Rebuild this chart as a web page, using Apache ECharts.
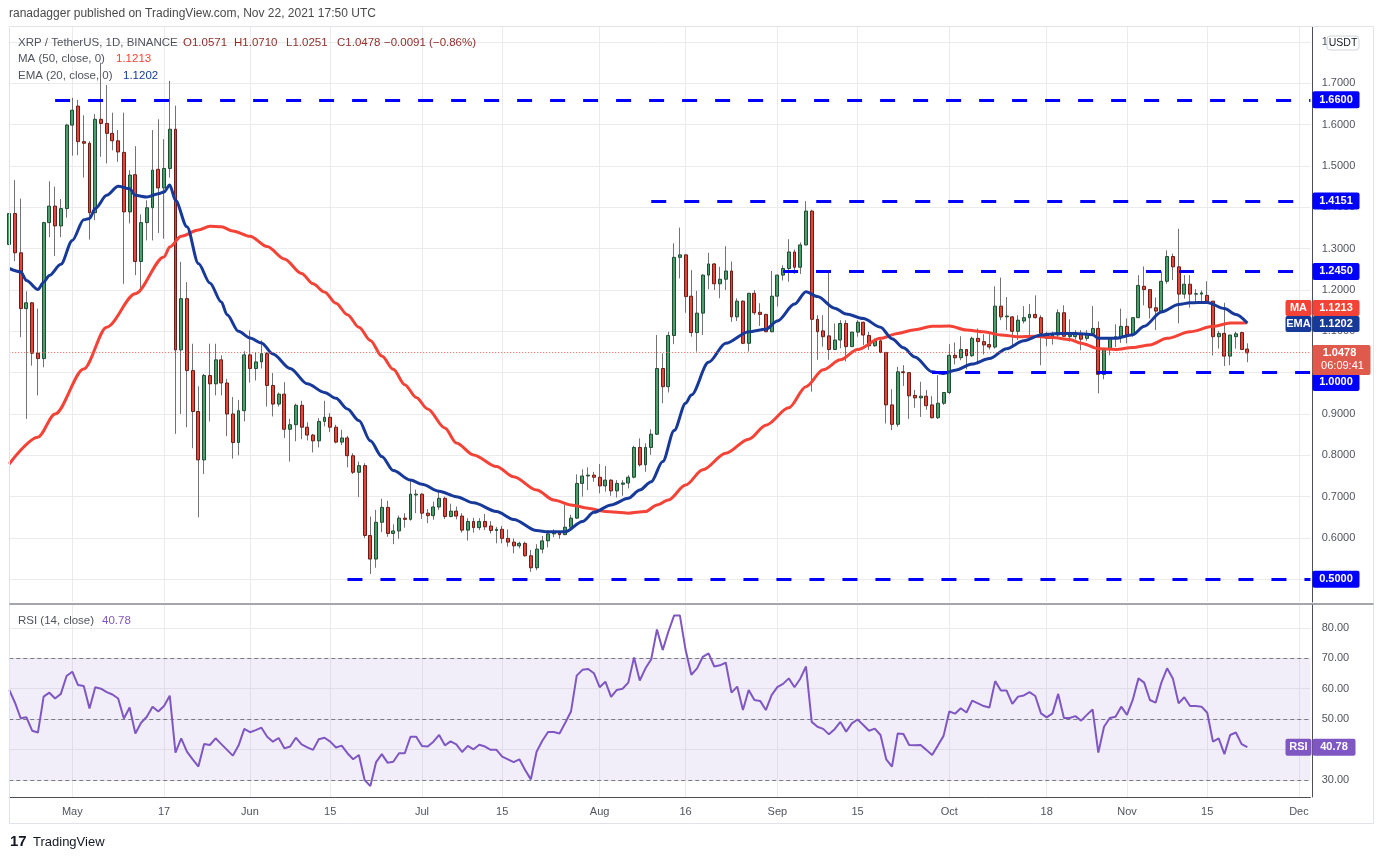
<!DOCTYPE html>
<html>
<head>
<meta charset="utf-8">
<title>XRP / TetherUS 1D</title>
<script src="https://cdn.jsdelivr.net/npm/echarts@6.0.0/dist/echarts.min.js"></script>
<style>
  html, body { margin: 0; padding: 0; background: #fff; }
  #chart { width: 1384px; height: 860px; }
</style>
</head>
<body>
<div id="chart"></div>
<script>
// XRP/USDT daily, first candle 2021-04-20, last 2021-11-22, axis runs on to Dec 3
var firstDay = '2021-04-20';
var lastAxisDay = '2021-12-03';

var opens = [
    1.310, 1.385, 1.290, 1.155, 1.169, 1.047, 1.034, 1.363, 1.403, 1.355,
    1.397, 1.599, 1.645, 1.559, 1.555, 1.387, 1.613, 1.603, 1.579, 1.561,
    1.533, 1.389, 1.479, 1.269, 1.363, 1.399, 1.492, 1.447, 1.494, 1.589,
    1.055, 1.179, 1.005, 0.906, 0.789, 0.993, 0.973, 1.031, 0.975, 0.900,
    0.831, 0.908, 1.043, 1.010, 1.026, 1.046, 0.969, 0.924, 0.948, 0.863,
    0.874, 0.921, 0.868, 0.849, 0.835, 0.882, 0.892, 0.868, 0.832, 0.842,
    0.799, 0.759, 0.775, 0.606, 0.549, 0.638, 0.674, 0.611, 0.617, 0.648,
    0.645, 0.704, 0.706, 0.660, 0.654, 0.675, 0.696, 0.652, 0.665, 0.653,
    0.619, 0.640, 0.625, 0.640, 0.629, 0.618, 0.621, 0.599, 0.590, 0.581,
    0.587, 0.557, 0.528, 0.573, 0.593, 0.610, 0.613, 0.608, 0.626, 0.648,
    0.732, 0.750, 0.752, 0.747, 0.726, 0.740, 0.714, 0.730, 0.733, 0.747,
    0.819, 0.777, 0.819, 0.851, 1.010, 0.966, 1.090, 1.279, 1.285, 1.185,
    1.097, 1.144, 1.236, 1.263, 1.215, 1.226, 1.246, 1.135, 1.173, 1.071,
    1.192, 1.146, 1.141, 1.099, 1.185, 1.236, 1.252, 1.292, 1.255, 1.309,
    1.391, 1.129, 1.101, 1.089, 1.056, 1.079, 1.119, 1.063, 1.098, 1.122,
    1.090, 1.065, 1.077, 1.049, 0.922, 0.875, 1.002, 1.000, 0.945, 0.939,
    0.943, 0.922, 0.891, 0.926, 0.952, 1.042, 1.036, 1.056, 1.041, 1.083,
    1.075, 1.068, 1.062, 1.161, 1.135, 1.135, 1.100, 1.125, 1.133, 1.141,
    1.133, 1.095, 1.083, 1.091, 1.145, 1.087, 1.087, 1.093, 1.083, 1.095,
    1.107, 0.996, 1.058, 1.084, 1.087, 1.112, 1.091, 1.133, 1.209, 1.201,
    1.157, 1.149, 1.221, 1.281, 1.256, 1.190, 1.214, 1.190, 1.190, 1.187,
    1.173, 1.087, 1.095, 1.040, 1.087, 1.097, 1.0571
];
var highs = [
    1.400, 1.466, 1.421, 1.197, 1.171, 1.155, 1.365, 1.463, 1.450, 1.420,
    1.602, 1.665, 1.660, 1.623, 1.560, 1.626, 1.750, 1.696, 1.629, 1.587,
    1.629, 1.490, 1.548, 1.383, 1.417, 1.587, 1.613, 1.565, 1.706, 1.646,
    1.268, 1.219, 1.070, 0.967, 0.997, 1.070, 1.070, 1.042, 0.985, 0.941,
    0.934, 1.052, 1.102, 1.050, 1.078, 1.050, 0.999, 0.952, 0.977, 0.888,
    0.925, 0.932, 0.880, 0.852, 0.890, 0.932, 0.902, 0.874, 0.862, 0.847,
    0.805, 0.785, 0.781, 0.652, 0.668, 0.695, 0.690, 0.633, 0.654, 0.660,
    0.738, 0.717, 0.708, 0.670, 0.688, 0.711, 0.700, 0.683, 0.676, 0.660,
    0.648, 0.649, 0.648, 0.658, 0.641, 0.627, 0.629, 0.621, 0.599, 0.591,
    0.591, 0.571, 0.585, 0.605, 0.619, 0.621, 0.615, 0.680, 0.656, 0.754,
    0.766, 0.771, 0.760, 0.779, 0.774, 0.742, 0.740, 0.740, 0.752, 0.823,
    0.841, 0.829, 0.863, 1.091, 1.047, 1.099, 1.313, 1.351, 1.286, 1.248,
    1.198, 1.238, 1.290, 1.265, 1.256, 1.306, 1.269, 1.180, 1.175, 1.193,
    1.200, 1.168, 1.142, 1.246, 1.237, 1.260, 1.323, 1.298, 1.315, 1.415,
    1.394, 1.139, 1.139, 1.244, 1.119, 1.127, 1.127, 1.099, 1.127, 1.123,
    1.099, 1.083, 1.083, 1.050, 0.960, 1.014, 1.018, 1.001, 0.958, 0.978,
    0.958, 0.943, 0.994, 0.953, 1.069, 1.073, 1.088, 1.057, 1.087, 1.107,
    1.093, 1.093, 1.209, 1.230, 1.183, 1.136, 1.139, 1.161, 1.166, 1.187,
    1.139, 1.099, 1.099, 1.153, 1.163, 1.129, 1.103, 1.103, 1.103, 1.161,
    1.124, 1.058, 1.084, 1.117, 1.155, 1.131, 1.133, 1.236, 1.257, 1.201,
    1.182, 1.245, 1.296, 1.288, 1.348, 1.236, 1.236, 1.202, 1.199, 1.221,
    1.173, 1.101, 1.169, 1.091, 1.099, 1.099, 1.0710
];
var lows = [
    1.290, 1.270, 1.086, 0.888, 1.017, 0.945, 1.013, 1.328, 1.282, 1.328,
    1.375, 1.525, 1.526, 1.472, 1.322, 1.369, 1.522, 1.506, 1.538, 1.510,
    1.215, 1.361, 1.236, 1.201, 1.320, 1.320, 1.338, 1.324, 1.472, 0.852,
    0.900, 0.868, 0.817, 0.650, 0.755, 0.882, 0.945, 0.945, 0.846, 0.792,
    0.800, 0.882, 0.976, 0.981, 1.010, 0.918, 0.894, 0.918, 0.842, 0.785,
    0.834, 0.839, 0.836, 0.807, 0.819, 0.870, 0.856, 0.829, 0.825, 0.771,
    0.755, 0.699, 0.600, 0.513, 0.528, 0.614, 0.603, 0.585, 0.598, 0.625,
    0.642, 0.660, 0.646, 0.636, 0.644, 0.668, 0.646, 0.650, 0.645, 0.613,
    0.594, 0.613, 0.619, 0.619, 0.611, 0.587, 0.587, 0.579, 0.563, 0.575,
    0.555, 0.518, 0.522, 0.563, 0.577, 0.602, 0.598, 0.607, 0.618, 0.646,
    0.700, 0.716, 0.736, 0.708, 0.712, 0.702, 0.698, 0.702, 0.720, 0.744,
    0.773, 0.760, 0.801, 0.849, 0.926, 0.952, 1.069, 1.228, 1.145, 1.087,
    1.051, 1.091, 1.202, 1.200, 1.180, 1.200, 1.123, 1.125, 1.069, 1.051,
    1.140, 1.113, 1.098, 1.098, 1.160, 1.223, 1.220, 1.239, 1.239, 1.308,
    0.954, 1.031, 1.063, 1.031, 1.055, 1.059, 1.027, 1.062, 1.087, 1.067,
    1.055, 1.063, 1.047, 0.877, 0.861, 0.869, 0.968, 0.888, 0.915, 0.893,
    0.910, 0.889, 0.888, 0.922, 0.948, 1.020, 1.030, 1.008, 1.038, 1.020,
    1.044, 1.056, 1.058, 1.127, 1.103, 1.067, 1.079, 1.119, 1.088, 1.131,
    1.018, 1.064, 1.068, 1.085, 1.087, 1.075, 1.080, 1.054, 1.077, 1.095,
    0.950, 0.984, 1.042, 1.062, 1.072, 1.071, 1.087, 1.132, 1.163, 1.131,
    1.103, 1.149, 1.215, 1.224, 1.119, 1.179, 1.157, 1.169, 1.169, 1.167,
    1.042, 1.058, 1.016, 1.018, 1.058, 1.055, 1.0251
];
var closes = [
    1.385, 1.290, 1.155, 1.169, 1.047, 1.034, 1.363, 1.403, 1.355, 1.397,
    1.599, 1.635, 1.559, 1.555, 1.387, 1.613, 1.603, 1.579, 1.561, 1.534,
    1.389, 1.478, 1.269, 1.363, 1.399, 1.490, 1.447, 1.494, 1.589, 1.055,
    1.179, 1.005, 0.906, 0.789, 0.993, 0.973, 1.031, 0.975, 0.900, 0.831,
    0.908, 1.043, 1.010, 1.026, 1.046, 0.969, 0.924, 0.948, 0.863, 0.874,
    0.921, 0.868, 0.849, 0.835, 0.882, 0.892, 0.868, 0.832, 0.842, 0.799,
    0.759, 0.775, 0.606, 0.549, 0.638, 0.674, 0.611, 0.617, 0.648, 0.645,
    0.706, 0.706, 0.660, 0.654, 0.675, 0.696, 0.652, 0.665, 0.653, 0.619,
    0.640, 0.625, 0.640, 0.627, 0.618, 0.621, 0.599, 0.590, 0.581, 0.587,
    0.557, 0.528, 0.573, 0.593, 0.610, 0.613, 0.608, 0.626, 0.648, 0.732,
    0.750, 0.752, 0.747, 0.726, 0.740, 0.714, 0.732, 0.733, 0.747, 0.819,
    0.777, 0.819, 0.851, 1.010, 0.966, 1.090, 1.279, 1.285, 1.184, 1.097,
    1.144, 1.236, 1.263, 1.215, 1.226, 1.246, 1.135, 1.173, 1.071, 1.192,
    1.145, 1.141, 1.099, 1.185, 1.236, 1.252, 1.292, 1.255, 1.309, 1.391,
    1.129, 1.099, 1.087, 1.056, 1.079, 1.119, 1.063, 1.098, 1.122, 1.091,
    1.065, 1.077, 1.049, 0.922, 0.875, 1.002, 1.000, 0.944, 0.939, 0.943,
    0.920, 0.891, 0.926, 0.952, 1.042, 1.036, 1.056, 1.041, 1.083, 1.075,
    1.067, 1.062, 1.161, 1.135, 1.137, 1.100, 1.127, 1.133, 1.141, 1.133,
    1.095, 1.083, 1.091, 1.145, 1.088, 1.091, 1.093, 1.081, 1.095, 1.107,
    0.996, 1.058, 1.084, 1.087, 1.112, 1.091, 1.133, 1.211, 1.201, 1.157,
    1.149, 1.221, 1.281, 1.256, 1.190, 1.214, 1.190, 1.191, 1.193, 1.173,
    1.087, 1.095, 1.040, 1.091, 1.094, 1.056, 1.0478
];

// RSI(14), one value per candle
var rsiValues = [
    59.6, 55.4, 50.3, 50.6, 46.2, 45.6, 57.4, 58.7, 56.8, 58.3,
    64.2, 65.6, 61.2, 60.9, 53.5, 60.5, 60.0, 58.9, 58.1, 56.8,
    50.2, 53.8, 45.3, 48.8, 50.8, 54.1, 52.5, 54.3, 57.7, 39.0,
    43.7, 39.3, 36.8, 34.4, 41.8, 41.5, 43.7, 41.8, 39.9, 38.0,
    41.3, 46.8, 45.7, 46.4, 47.2, 44.2, 42.6, 43.8, 40.4, 41.0,
    43.9, 41.7, 40.7, 39.9, 43.4, 43.9, 42.6, 40.7, 41.3, 38.8,
    36.8, 38.2, 30.0, 28.0, 35.9, 38.5, 35.7, 36.0, 38.8, 38.8,
    44.2, 44.2, 41.2, 41.0, 42.6, 44.8, 41.4, 42.7, 41.7, 39.2,
    41.2, 40.1, 41.6, 41.0, 39.9, 39.9, 37.7, 36.8, 35.9, 36.8,
    33.3, 30.2, 39.3, 42.9, 45.8, 45.8, 45.3, 48.8, 52.5, 64.3,
    66.2, 66.5, 65.1, 60.5, 62.3, 57.3, 59.6, 60.0, 62.0, 70.3,
    62.7, 66.7, 69.7, 79.5, 72.7, 78.8, 84.1, 84.1, 72.7, 64.6,
    66.7, 70.5, 71.6, 67.3, 67.7, 68.6, 58.7, 60.7, 53.0, 59.6,
    56.3, 56.0, 53.0, 57.9, 60.5, 61.6, 63.4, 60.5, 63.3, 67.3,
    49.1, 47.5, 46.8, 45.0, 46.7, 49.1, 45.9, 48.6, 49.9, 48.1,
    46.2, 46.9, 44.8, 36.8, 34.4, 45.3, 45.1, 41.5, 41.4, 41.5,
    39.9, 38.2, 41.3, 44.5, 52.5, 51.8, 53.6, 52.2, 56.1, 55.2,
    54.3, 53.8, 62.5, 59.4, 59.4, 55.0, 57.4, 57.8, 58.9, 57.6,
    51.9, 50.6, 51.9, 58.3, 50.4, 50.4, 51.0, 49.5, 51.4, 53.2,
    39.0, 47.5, 50.4, 50.8, 54.1, 51.4, 56.3, 63.4, 62.0, 56.3,
    55.4, 62.0, 66.7, 63.4, 55.2, 57.2, 54.3, 54.3, 54.1, 52.1,
    42.6, 43.7, 38.5, 44.8, 45.6, 41.8, 40.78
];

// MA(50) and EMA(20): [candle index, value]
var maPoints = [
    [0, 0.779], [5, 0.844], [8, 0.900], [13, 1.009], [17, 1.110], [22, 1.191], [27, 1.280],
    [28, 1.304], [30, 1.330], [33, 1.345], [35, 1.354], [37, 1.353], [39, 1.343], [42, 1.330],
    [45, 1.305], [48, 1.275], [51, 1.240], [53, 1.215], [55, 1.195], [57, 1.168], [59, 1.140],
    [61, 1.110], [63, 1.078], [65, 1.040], [67, 1.008], [69, 0.971], [71, 0.940], [73, 0.912],
    [76, 0.866], [78, 0.830], [81, 0.801], [85, 0.773], [88, 0.748], [92, 0.716], [95, 0.692],
    [98, 0.680], [101, 0.672], [104, 0.664], [108, 0.660], [111, 0.664], [113, 0.680], [115, 0.692],
    [118, 0.728], [121, 0.765], [125, 0.805], [129, 0.839], [132, 0.873], [136, 0.915], [139, 0.966],
    [142, 1.007], [145, 1.031], [148, 1.056], [152, 1.083], [155, 1.095], [158, 1.104], [161, 1.112],
    [164, 1.113], [167, 1.103], [170, 1.099], [173, 1.091], [176, 1.087], [179, 1.088], [182, 1.085],
    [185, 1.080], [187, 1.071], [190, 1.058], [193, 1.056], [196, 1.061], [199, 1.067], [202, 1.083],
    [206, 1.099], [210, 1.112], [213, 1.120], [216, 1.121]
];
var emaPoints = [
    [0, 1.252], [2, 1.244], [3, 1.223], [5, 1.201], [6, 1.219], [7, 1.235], [9, 1.262],
    [11, 1.320], [13, 1.370], [14, 1.373], [15, 1.397], [17, 1.429], [19, 1.451], [21, 1.445],
    [22, 1.429], [24, 1.425], [26, 1.433], [27, 1.437], [28, 1.454], [29, 1.417], [31, 1.353],
    [33, 1.264], [35, 1.217], [37, 1.171], [38, 1.140], [40, 1.100], [42, 1.084], [44, 1.072],
    [46, 1.045], [49, 1.010], [52, 0.973], [55, 0.952], [57, 0.938], [59, 0.912], [61, 0.884],
    [63, 0.835], [65, 0.797], [67, 0.763], [70, 0.740], [72, 0.730], [75, 0.713], [78, 0.700],
    [81, 0.685], [85, 0.664], [88, 0.645], [92, 0.618], [94, 0.615], [97, 0.615], [100, 0.640],
    [102, 0.662], [105, 0.680], [108, 0.696], [110, 0.716], [112, 0.736], [114, 0.785], [116, 0.860],
    [118, 0.926], [119, 0.946], [122, 1.025], [125, 1.071], [129, 1.099], [132, 1.105], [134, 1.125],
    [137, 1.166], [139, 1.196], [141, 1.184], [144, 1.156], [146, 1.142], [149, 1.131], [152, 1.110],
    [154, 1.082], [156, 1.060], [158, 1.038], [161, 1.002], [163, 0.998], [165, 1.006], [168, 1.021],
    [171, 1.034], [174, 1.058], [177, 1.077], [180, 1.091], [183, 1.095], [186, 1.095], [189, 1.092],
    [190, 1.083], [193, 1.083], [196, 1.092], [198, 1.112], [201, 1.147], [204, 1.165], [206, 1.169],
    [209, 1.170], [212, 1.155], [214, 1.141], [216, 1.120]
];

// horizontal levels drawn by the author
var levelValues = [1.66, 1.4151, 1.245, 1.0, 0.5];
var levelStarts = ['2021-04-28', '2021-08-10', '2021-09-02', '2021-09-28', '2021-06-18'];

var tickDates = ['2021-05-01', '2021-05-17', '2021-06-01', '2021-06-15', '2021-07-01', '2021-07-15',
    '2021-08-01', '2021-08-16', '2021-09-01', '2021-09-15', '2021-10-01', '2021-10-18',
    '2021-11-01', '2021-11-15', '2021-12-01'];
var tickLabels = ['May', '17', 'Jun', '15', 'Jul', '15', 'Aug', '16', 'Sep', '15', 'Oct', '18', 'Nov', '15', 'Dec'];
var priceTicks = [0.5, 0.6, 0.7, 0.8, 0.9, 1.0, 1.1, 1.2, 1.3, 1.4, 1.5, 1.6, 1.7, 1.8];
var rsiTicks = [30, 40, 50, 60, 70, 80];

var maLast = 1.1213;
var emaLast = 1.1202;
var rsiLast = 40.78;

var FONT = '"Liberation Sans", Arial, sans-serif';
var GRID_COLOR = '#ebebee';
var AXIS_COLOR = '#4c4f58';
var TEXT_COLOR = '#50535e';
var MA_COLOR = '#f44336';
var EMA_COLOR = '#17399a';
var LEVEL_COLOR = '#0000ff';
var RSI_COLOR = '#7e57c2';
var PRICE_COLOR = '#df5a4d';

var categories = [];
for (var t = Date.parse(firstDay + 'T00:00:00Z'); t <= Date.parse(lastAxisDay + 'T00:00:00Z'); t += 86400000) {
    categories.push(new Date(t).toISOString().slice(0, 10));
}
var lastCat = categories[categories.length - 1];

var candleData = [];
var bodyData = [];
for (var i = 0; i < opens.length; i++) {
    candleData.push([opens[i], closes[i], lows[i], highs[i]]);
    bodyData.push([opens[i], closes[i], Math.min(opens[i], closes[i]), Math.max(opens[i], closes[i])]);
}
var lastClose = closes[closes.length - 1];

var isTick = function (idx, val) {
    return tickDates.indexOf(val) >= 0;
};

var levelLines = [];
for (var k = 0; k < levelValues.length; k++) {
    levelLines.push([
        {coord: [levelStarts[k], levelValues[k]], lineStyle: {color: LEVEL_COLOR, width: 3, type: [15, 18]}},
        {coord: [lastCat, levelValues[k]]}
    ]);
}
levelLines.push({yAxis: lastClose, lineStyle: {color: PRICE_COLOR, width: 1, type: [1, 2]}});

var chart = echarts.init(document.getElementById('chart'));

var option = {
    animation: false,
    backgroundColor: '#ffffff',
    textStyle: {fontFamily: FONT},
    grid: [
        {left: 9.25, right: 73.6, top: 27, height: 575, outerBoundsMode: 'none'},
        {left: 9.25, right: 73.6, top: 605, height: 192, outerBoundsMode: 'none'}
    ],
    xAxis: [
        {
            type: 'category', gridIndex: 0, data: categories, boundaryGap: false,
            axisLine: {show: false}, axisTick: {show: false}, axisLabel: {show: false},
            splitLine: {show: true, interval: isTick, lineStyle: {color: GRID_COLOR}}
        },
        {
            type: 'category', gridIndex: 1, data: categories, boundaryGap: false,
            axisLine: {show: true, lineStyle: {color: AXIS_COLOR, width: 1}},
            axisTick: {show: false},
            axisLabel: {
                interval: isTick, color: TEXT_COLOR, fontSize: 11, margin: 9, fontFamily: FONT,
                formatter: function (v) { return tickLabels[tickDates.indexOf(v)]; }
            },
            splitLine: {show: true, interval: isTick, lineStyle: {color: GRID_COLOR}}
        }
    ],
    yAxis: [
        {
            type: 'value', gridIndex: 0, position: 'right', offset: 2.3,
            min: 0.4451, max: 1.8363,
            axisLine: {show: true, lineStyle: {color: AXIS_COLOR, width: 1}},
            axisTick: {show: false, customValues: priceTicks},
            axisLabel: {
                customValues: priceTicks, color: TEXT_COLOR, fontSize: 11, margin: 9, fontFamily: FONT,
                formatter: function (v) { return v.toFixed(4); }
            },
            splitLine: {show: true, lineStyle: {color: GRID_COLOR}}
        },
        {
            type: 'value', gridIndex: 1, position: 'right', offset: 2.3,
            min: 24.41, max: 87.52,
            axisLine: {show: true, lineStyle: {color: AXIS_COLOR, width: 1}},
            axisTick: {show: false, customValues: rsiTicks},
            axisLabel: {
                customValues: rsiTicks, color: TEXT_COLOR, fontSize: 11, margin: 9, fontFamily: FONT,
                formatter: function (v) { return v.toFixed(2); }
            },
            splitLine: {show: true, lineStyle: {color: GRID_COLOR}}
        }
    ],
    series: [
        {
            // wicks
            type: 'candlestick', xAxisIndex: 0, yAxisIndex: 0, data: candleData,
            barWidth: 1, z: 2,
            itemStyle: {color: '#737375', color0: '#737375', borderColor: '#737375', borderColor0: '#737375', borderWidth: 1}
        },
        {
            // bodies
            type: 'candlestick', xAxisIndex: 0, yAxisIndex: 0, data: bodyData,
            barWidth: 3.4, z: 3,
            itemStyle: {color: '#4b9d6c', color0: '#e0463b', borderColor: '#1f4d32', borderColor0: '#6d1d16', borderWidth: 1},
            markLine: {silent: true, symbol: ['none', 'none'], label: {show: false}, animation: false, data: levelLines}
        },
        {
            name: 'MA', type: 'line', xAxisIndex: 0, yAxisIndex: 0, data: maPoints,
            showSymbol: false, smooth: 0.3, smoothMonotone: 'x', z: 4,
            lineStyle: {color: MA_COLOR, width: 3}
        },
        {
            name: 'EMA', type: 'line', xAxisIndex: 0, yAxisIndex: 0, data: emaPoints,
            showSymbol: false, smooth: 0.3, smoothMonotone: 'x', z: 4,
            lineStyle: {color: EMA_COLOR, width: 3}
        },
        {
            name: 'RSI', type: 'line', xAxisIndex: 1, yAxisIndex: 1, data: rsiValues,
            showSymbol: false, z: 3,
            lineStyle: {color: RSI_COLOR, width: 2},
            markArea: {silent: true, itemStyle: {color: 'rgba(126,87,194,0.1)'}, data: [[{yAxis: 30}, {yAxis: 70}]]},
            markLine: {
                silent: true, symbol: ['none', 'none'], label: {show: false}, z: 1,
                lineStyle: {color: '#787b86', width: 1, type: [4, 3]},
                data: [{yAxis: 30}, {yAxis: 50}, {yAxis: 70}]
            }
        }
    ]
};
chart.setOption(option);

// price scale tags, placed through the chart's own scales
function py(v) { return chart.convertToPixel({yAxisIndex: 0}, v); }
function ry(v) { return chart.convertToPixel({yAxisIndex: 1}, v); }

function txt(x, y, text, color, size, weight, align, z) {
    return {
        type: 'text', x: x, y: y, z: z || 60,
        style: {
            text: text, fill: color, font: (weight || 'normal') + ' ' + size + 'px ' + FONT,
            align: align || 'left', textAlign: align || 'left',
            verticalAlign: 'middle', textVerticalAlign: 'middle'
        }
    };
}
function tag(x, yMid, w, h, bg, text) {
    return {
        type: 'group', z: 60,
        children: [
            {type: 'rect', z: 60, shape: {x: x, y: yMid - h / 2, width: w, height: h, r: 2}, style: {fill: bg}},
            txt(x + w / 2, yMid, text, '#ffffff', 11, 'bold', 'center', 61)
        ]
    };
}

var AX = 1312.5;
var pY = py(lastClose);
var g = [];
for (var n = 0; n < levelValues.length; n++) {
    var yTag = py(levelValues[n]);
    // the 1.0000 tag is pushed down below the last-price tag, as on the original scale
    if (Math.abs(yTag - pY) < 30) {
        yTag = pY + 29.5;
    }
    g.push(tag(AX, yTag, 47, 17, LEVEL_COLOR, levelValues[n].toFixed(4)));
}
var emaY = py(emaLast) + 1;
g.push(tag(AX - 27, emaY, 26, 16, EMA_COLOR, 'EMA'));
g.push(tag(AX, emaY, 47, 16, EMA_COLOR, emaLast.toFixed(4)));
g.push(tag(AX - 27, emaY - 16, 26, 16, MA_COLOR, 'MA'));
g.push(tag(AX, emaY - 16, 47, 16, MA_COLOR, maLast.toFixed(4)));

g.push({type: 'rect', z: 62, shape: {x: AX, y: pY - 8, width: 58, height: 30, r: 2}, style: {fill: PRICE_COLOR}});
g.push(txt(AX + 27, pY + 0.5, lastClose.toFixed(4), '#ffffff', 11, 'bold', 'center', 63));
g.push(txt(AX + 30, pY + 13.5, '06:09:41', '#ffffff', 11, 'normal', 'center', 63));

var rY = ry(rsiLast);
g.push(tag(AX - 27, rY, 26, 17, RSI_COLOR, 'RSI'));
g.push(tag(AX, rY, 43, 17, RSI_COLOR, rsiLast.toFixed(2)));

// currency button over the top tick label
g.push({type: 'rect', z: 60, shape: {x: 1327, y: 36, width: 32, height: 14, r: 3}, style: {fill: '#ffffff', stroke: '#d1d4dc', lineWidth: 1}});
g.push(txt(1343, 43, 'USDT', '#131722', 10.5, 'normal', 'center', 61));

// frame and pane separator
g.push({type: 'rect', z: 55, shape: {x: 9.5, y: 26.5, width: 1364, height: 797}, style: {fill: null, stroke: '#e0e3eb', lineWidth: 1}});
g.push({type: 'line', z: 56, shape: {x1: 9.5, y1: 604, x2: 1373.5, y2: 604}, style: {stroke: AXIS_COLOR, lineWidth: 1.2}});

// header texts
g.push(txt(9, 14, 'ranadagger published on TradingView.com, Nov 22, 2021 17:50 UTC', '#4a4a4a', 12));
g.push(txt(18, 42.5, 'XRP / TetherUS, 1D, BINANCE', TEXT_COLOR, 11.5));
var ohlcColor = '#8f3029';
g.push(txt(183, 42.5, 'O' + opens[opens.length - 1].toFixed(4), ohlcColor, 11.5));
g.push(txt(234, 42.5, 'H' + highs[highs.length - 1].toFixed(4), ohlcColor, 11.5));
g.push(txt(286, 42.5, 'L' + lows[lows.length - 1].toFixed(4), ohlcColor, 11.5));
g.push(txt(337, 42.5, 'C' + lastClose.toFixed(4), ohlcColor, 11.5));
g.push(txt(384, 42.5, '\u22120.0091 (\u22120.86%)', ohlcColor, 11.5));
g.push(txt(18, 59, 'MA (50, close, 0)', TEXT_COLOR, 11.5));
g.push(txt(116, 59, maLast.toFixed(4), MA_COLOR, 11.5));
g.push(txt(18, 75.5, 'EMA (20, close, 0)', TEXT_COLOR, 11.5));
g.push(txt(123, 75.5, emaLast.toFixed(4), EMA_COLOR, 11.5));
g.push(txt(18, 621, 'RSI (14, close)', TEXT_COLOR, 11.5));
g.push(txt(102, 621, rsiLast.toFixed(2), RSI_COLOR, 11.5));

// footer logo
g.push(txt(10, 842, '17', '#131722', 15, '900'));
g.push(txt(33, 842, 'TradingView', '#131722', 13));

chart.setOption({graphic: g});
</script>
</body>
</html>
